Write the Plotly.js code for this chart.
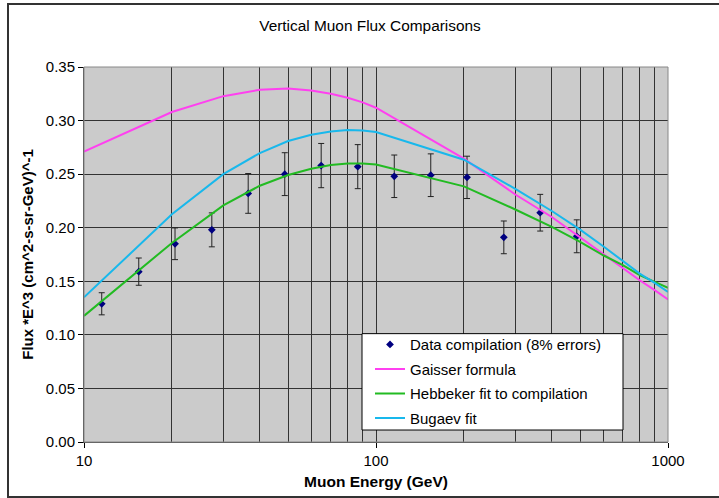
<!DOCTYPE html>
<html>
<head>
<meta charset="utf-8">
<script src="https://cdn.plot.ly/plotly-3.0.1.min.js"></script>
<style>
  html, body { margin: 0; padding: 0; background: #ffffff; overflow: hidden; }
  #wrap { position: relative; width: 719px; height: 498px; overflow: hidden; }
  #chart { width: 719px; height: 498px; }
  #frame { position: absolute; left: 7px; top: 3px; width: 730px; height: 491px;
           border: 2px solid #333333; pointer-events: none; }
</style>
</head>
<body>
<div id="wrap">
  <div id="chart"></div>
  <div id="frame"></div>
</div>
<script>
// Data compilation points (energy in GeV, flux*E^3)
const dataEnergy = [11.5, 15.4, 20.5, 27.4, 36.5, 48.7, 64.9, 86.6, 115.5, 154, 205, 274, 365, 487];
const dataFlux   = [0.129, 0.159, 0.185, 0.198, 0.232, 0.250, 0.258, 0.257, 0.248, 0.249, 0.247, 0.191, 0.214, 0.192];

// Model curves evaluated at these energies
const curveEnergy = [10, 20, 30, 40, 50, 60, 70, 80, 90, 100, 200, 300, 400, 500, 600, 700, 800, 900, 1000];
const gaisser  = [0.271, 0.308, 0.3228, 0.3287, 0.330, 0.328, 0.325, 0.3213, 0.317, 0.312, 0.2644, 0.231, 0.210, 0.1908, 0.1752, 0.162, 0.151, 0.1417, 0.133];
const hebbeker = [0.1177, 0.1858, 0.2209, 0.2392, 0.2492, 0.2551, 0.2585, 0.260, 0.260, 0.259, 0.2386, 0.217, 0.2007, 0.1867, 0.1743, 0.165, 0.1557, 0.1494, 0.1438];
const bugaev   = [0.135, 0.2125, 0.250, 0.2697, 0.2809, 0.2868, 0.2899, 0.2911, 0.2908, 0.2894, 0.2635, 0.2363, 0.2156, 0.1982, 0.1827, 0.1687, 0.1572, 0.1485, 0.1401];

const seriesNames = ['Data compilation (8% errors)', 'Gaisser formula', 'Hebbeker fit to compilation', 'Bugaev fit'];
const errorPercent = 8;

const FONT = 'Liberation Sans, Arial, Helvetica, sans-serif';

const traces = [
  {
    x: dataEnergy, y: dataFlux, name: seriesNames[0], type: 'scatter', mode: 'markers', legendgroup: 'g0',
    marker: { symbol: 'diamond', size: 6, color: '#000080' },
    error_y: { type: 'percent', value: errorPercent, visible: true, color: '#222222', thickness: 1, width: 3 }
  },
  {
    x: curveEnergy, y: gaisser, name: seriesNames[1], type: 'scatter', mode: 'lines', legendgroup: 'g1',
    line: { color: '#FF40F0', width: 2 }
  },
  {
    x: curveEnergy, y: hebbeker, name: seriesNames[2], type: 'scatter', mode: 'lines', legendgroup: 'g2',
    line: { color: '#22BB22', width: 2 }
  },
  {
    x: curveEnergy, y: bugaev, name: seriesNames[3], type: 'scatter', mode: 'lines', legendgroup: 'g3',
    line: { color: '#18B8EC', width: 2 }
  }
];

// plot area: left 84, right 668, top 66.5, bottom 442 (pixels)
const L = 84, R = 668, T = 66.5, B = 442;
const W = R - L, H = B - T;
const px = v => (v - L) / W;
const py = v => (B - v) / H;

const layout = {
  width: 719, height: 498,
  margin: { l: L, r: 719 - R, t: T, b: 498 - B, pad: 0 },
  paper_bgcolor: '#ffffff',
  plot_bgcolor: '#CBCBCB',
  font: { family: FONT, size: 15, color: '#000000' },
  title: {
    text: 'Vertical Muon Flux Comparisons',
    font: { family: FONT, size: 15.4, color: '#000000' },
    x: px(370), xanchor: 'center', xref: 'paper',
    y: 1 - 26 / 498, yanchor: 'middle', yref: 'container'
  },
  xaxis: {
    type: 'log', range: [1, 3], dtick: 1,
    tickvals: [10, 100, 1000], ticktext: ['10', '100', '1000'],
    ticks: 'outside', ticklen: 5, tickcolor: '#000000', tickwidth: 1,
    showgrid: true, gridcolor: '#333333', gridwidth: 1,
    minor: { dtick: 'D1', showgrid: true, gridcolor: '#333333', gridwidth: 1, ticks: '' },
    showline: true, linecolor: '#444444', linewidth: 1,
    zeroline: false,
    tickfont: { family: FONT, size: 15, color: '#000000' },
    title: { text: 'Muon Energy (GeV)', font: { family: FONT, size: 15.5, color: '#000000', weight: 'bold' }, standoff: 8 }
  },
  yaxis: {
    range: [0, 0.35], dtick: 0.05, tick0: 0, tickformat: '.2f',
    ticks: 'outside', ticklen: 5, tickcolor: '#000000', tickwidth: 1,
    showgrid: true, gridcolor: '#333333', gridwidth: 1,
    showline: true, linecolor: '#444444', linewidth: 1,
    zeroline: false,
    tickfont: { family: FONT, size: 15, color: '#000000' },
    title: { text: 'Flux *E^3 (cm^2-s-sr-GeV)^-1', font: { family: FONT, size: 15, color: '#000000', weight: 'bold' }, standoff: 8 }
  },
  showlegend: true,
  legend: {
    x: px(370), xanchor: 'left', y: py(328), yanchor: 'top',
    bgcolor: 'rgba(0,0,0,0)', borderwidth: 0,
    font: { family: FONT, size: 15, color: '#000000' },
    traceorder: 'grouped', tracegroupgap: 2
  },
  shapes: [
    // legend box
    { type: 'rect', xref: 'paper', yref: 'paper', x0: px(362), x1: px(623), y0: py(430), y1: py(333.5),
      fillcolor: '#ffffff', line: { color: '#000000', width: 1 }, layer: 'above' },
    // plot area border (gray)
    { type: 'rect', xref: 'paper', yref: 'paper', x0: 0, x1: 1, y0: 0, y1: 1,
      fillcolor: 'rgba(0,0,0,0)', line: { color: '#888888', width: 1 }, layer: 'above' }
  ]
};

Plotly.newPlot('chart', traces, layout, { displayModeBar: false, staticPlot: true });
</script>
</body>
</html>
